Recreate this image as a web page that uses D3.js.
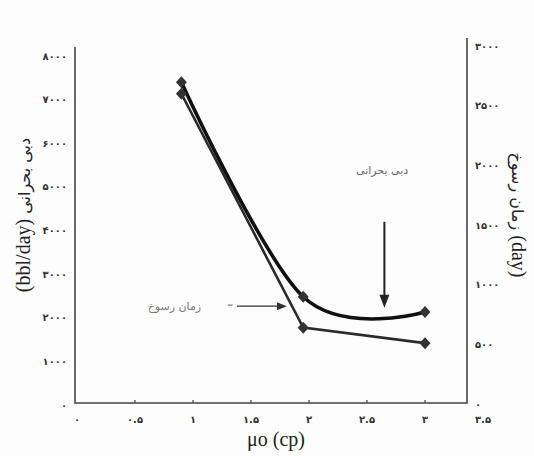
<!DOCTYPE html>
<html>
<head>
<meta charset="utf-8">
<script src="https://cdn.jsdelivr.net/npm/d3@7"></script>
<style>
  html, body { margin: 0; padding: 0; background: #fdfdfd; }
  svg { display: block; }
</style>
</head>
<body>
<div id="chart"></div>
<script>
// Chart data
const muValues = [0.9, 1.95, 3.0];                 // μo (cp)
const criticalRate = [7400, 2480, 2130];           // دبی بحرانی (bbl/day), left axis
const breakthroughTime = [2600, 640, 510];         // زمان رسوخ (day), right axis

const xTicks = [0, 0.5, 1, 1.5, 2, 2.5, 3, 3.5];
const xTickLabels = ["۰", "۰.۵", "۱", "۱.۵", "۲", "۲.۵", "۳", "۳.۵"];
const leftTicks = [0, 1000, 2000, 3000, 4000, 5000, 6000, 7000, 8000];
const leftTickLabels = ["۰", "۱۰۰۰", "۲۰۰۰", "۳۰۰۰", "۴۰۰۰", "۵۰۰۰", "۶۰۰۰", "۷۰۰۰", "۸۰۰۰"];
const rightTicks = [0, 500, 1000, 1500, 2000, 2500, 3000];
const rightTickLabels = ["۰", "۵۰۰", "۱۰۰۰", "۱۵۰۰", "۲۰۰۰", "۲۵۰۰", "۳۰۰۰"];

const W = 534, H = 456;
const frame = { left: 75, right: 467, bottom: 403, topLeft: 47, topRight: 38 };

const svg = d3.select("#chart").append("svg")
  .attr("width", W).attr("height", H);

svg.append("rect").attr("width", W).attr("height", H).attr("fill", "#fdfdfd");

// Scales
const x = d3.scaleLinear().domain([0, 3.5]).range([77, 483]);
const yL = d3.scaleLinear().domain([0, 8000]).range([405, 56]);
const yR = d3.scaleLinear().domain([0, 3000]).range([404, 46]);

// Frame lines (left, bottom, right)
svg.append("path")
  .attr("d", `M${frame.left},${frame.topLeft}V${frame.bottom}H${frame.right}V${frame.topRight}`)
  .attr("fill", "none").attr("stroke", "#444").attr("stroke-width", 1.6);

const tickFont = "'DejaVu Sans', sans-serif";

// X ticks
svg.append("g").selectAll("line")
  .data(xTicks.filter(d => d > 0 && d < 3.5))
  .join("line")
  .attr("x1", d => x(d)).attr("x2", d => x(d))
  .attr("y1", frame.bottom).attr("y2", frame.bottom - 3)
  .attr("stroke", "#444").attr("stroke-width", 1.2);

svg.append("g").selectAll("text")
  .data(xTicks)
  .join("text")
  .attr("x", d => x(d)).attr("y", 423)
  .attr("text-anchor", "middle")
  .attr("font-family", tickFont).attr("font-weight", "bold")
  .attr("font-size", 10).attr("fill", "#333")
  .text((d, i) => xTickLabels[i]);

// Left ticks
svg.append("g").selectAll("text")
  .data(leftTicks)
  .join("text")
  .attr("x", 67).attr("y", d => yL(d))
  .attr("dy", "0.35em")
  .attr("text-anchor", "end")
  .attr("font-family", tickFont).attr("font-weight", "bold")
  .attr("font-size", 10).attr("fill", "#333")
  .text((d, i) => leftTickLabels[i]);

// Right ticks
svg.append("g").selectAll("text")
  .data(rightTicks)
  .join("text")
  .attr("x", 475).attr("y", d => yR(d))
  .attr("dy", "0.35em")
  .attr("text-anchor", "start")
  .attr("font-family", tickFont).attr("font-weight", "bold")
  .attr("font-size", 10).attr("fill", "#333")
  .text((d, i) => rightTickLabels[i]);

// Axis titles
svg.append("text")
  .attr("transform", "translate(30,215) rotate(-90)")
  .attr("text-anchor", "middle")
  .attr("direction", "ltr")
  .attr("fill", "#222")
  .call(t => {
    t.append("tspan").attr("font-family", "'Liberation Serif', serif").attr("font-size", 20).text("(bbl/day)");
    t.append("tspan").attr("font-family", tickFont).attr("font-size", 16).text(" دبی بحرانی");
  });

svg.append("text")
  .attr("transform", "translate(512,215) rotate(90)")
  .attr("text-anchor", "middle")
  .attr("direction", "ltr")
  .attr("fill", "#222")
  .call(t => {
    t.append("tspan").attr("font-family", tickFont).attr("font-size", 16).text("زمان رسوخ ");
    t.append("tspan").attr("font-family", "'Liberation Serif', serif").attr("font-size", 20).text("(day)");
  });

svg.append("text")
  .attr("x", 276).attr("y", 446)
  .attr("text-anchor", "middle")
  .attr("font-family", "'Liberation Serif', serif")
  .attr("font-size", 20).attr("fill", "#222")
  .text("μo (cp)");

// Series
const rateData = muValues.map((m, i) => ({ mu: m, v: criticalRate[i] }));
const timeData = muValues.map((m, i) => ({ mu: m, v: breakthroughTime[i] }));

svg.append("path")
  .datum(timeData)
  .attr("fill", "none").attr("stroke", "#2a2a2a").attr("stroke-width", 2.6)
  .attr("d", d3.line().x(d => x(d.mu)).y(d => yR(d.v)));

svg.append("path")
  .datum(rateData)
  .attr("fill", "none").attr("stroke", "#111").attr("stroke-width", 3.6)
  .attr("d", d3.line().curve(d3.curveCardinal.tension(0)).x(d => x(d.mu)).y(d => yL(d.v)));

const diamond = "M0,-6L5.5,0L0,6L-5.5,0Z";
svg.append("g").selectAll("path")
  .data(timeData)
  .join("path")
  .attr("d", diamond)
  .attr("transform", d => `translate(${x(d.mu)},${yR(d.v)})`)
  .attr("fill", "#333");
svg.append("g").selectAll("path")
  .data(rateData)
  .join("path")
  .attr("d", diamond)
  .attr("transform", d => `translate(${x(d.mu)},${yL(d.v)})`)
  .attr("fill", "#333");

// Annotations
const annFont = tickFont;
// critical rate label + downward arrow
svg.append("text")
  .attr("x", x(2.63)).attr("y", yL(5300))
  .attr("text-anchor", "middle")
  .attr("font-family", annFont).attr("font-size", 11).attr("fill", "#666")
  .text("دبی بحرانی");
const ax = x(2.65), ay0 = yL(4200), ay1 = yL(2230);
svg.append("line")
  .attr("x1", ax).attr("x2", ax).attr("y1", ay0).attr("y2", ay1 - 8)
  .attr("stroke", "#222").attr("stroke-width", 2);
svg.append("path")
  .attr("d", `M${ax},${ay1}L${ax - 5},${ay1 - 13}L${ax + 5},${ay1 - 13}Z`)
  .attr("fill", "#222");

// breakthrough time label + rightward arrow
svg.append("text")
  .attr("x", x(0.84)).attr("y", yR(820))
  .attr("dy", "0.35em")
  .attr("text-anchor", "middle")
  .attr("font-family", annFont).attr("font-size", 11).attr("fill", "#777")
  .text("زمان رسوخ");
const by = yR(820);
svg.append("line")
  .attr("x1", x(1.3)).attr("x2", x(1.34)).attr("y1", by - 1).attr("y2", by - 1)
  .attr("stroke", "#777").attr("stroke-width", 1.2);
svg.append("line")
  .attr("x1", x(1.38)).attr("x2", x(1.76)).attr("y1", by).attr("y2", by)
  .attr("stroke", "#333").attr("stroke-width", 1.4);
const bx = x(1.81);
svg.append("path")
  .attr("d", `M${bx},${by}L${bx - 10},${by - 4}L${bx - 10},${by + 4}Z`)
  .attr("fill", "#333");
</script>
</body>
</html>
